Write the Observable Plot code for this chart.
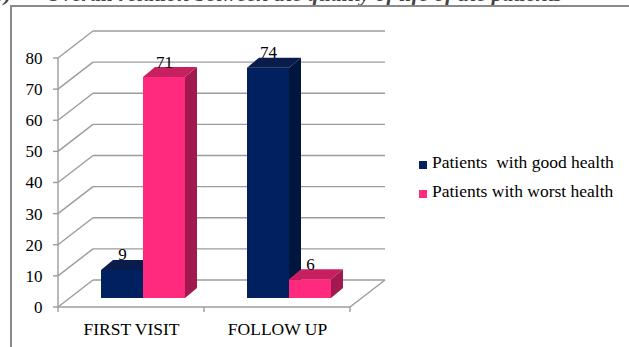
<!DOCTYPE html>
<html>
<head>
<meta charset="utf-8">
<script src="https://cdn.jsdelivr.net/npm/d3@7"></script>
<script src="https://cdn.jsdelivr.net/npm/@observablehq/plot@0.6"></script>
<style>
  html, body { margin: 0; padding: 0; background: #fff; }
  #wrap { position: relative; width: 629px; height: 347px; overflow: hidden; font-family: "Liberation Serif", "DejaVu Serif", serif; }
  .title { position: absolute; top: -17px; font-size: 22px; line-height: 22px; font-weight: bold; font-style: italic; color: #444; white-space: nowrap; }
  #frame { position: absolute; left: 10px; top: 5px; width: 700px; height: 400px; border-left: 2px solid #8a8a8a; border-top: 2px solid #8a8a8a; }
  #chart { position: absolute; left: 0; top: 0; }
  .leg { position: absolute; left: 419px; font-size: 17.5px; line-height: 20px; white-space: pre; color: #000; }
  .leg i { position: absolute; left: 0; width: 8px; height: 8px; }
  .leg span { position: absolute; left: 13px; top: 0; }
</style>
</head>
<body>
<div id="wrap">
  <div class="title" style="left:-7px">b)</div>
  <div class="title" style="left:46px">Overall relation between the quality of life of the patients</div>
  <div id="frame"></div>
  <div id="chart"></div>
  <div id="legend"></div>
</div>
<script>
// ---- data ----
const categories = ["FIRST VISIT", "FOLLOW UP"];
const seriesNames = ["Patients  with good health", "Patients with worst health"];
const goodHealth = [9, 74];
const worstHealth = [71, 6];
const yTicks = [0, 10, 20, 30, 40, 50, 60, 70, 80];

// ---- style ----
const frontColors = ["#002060", "#ff2a7d"];
const topColors = ["#0a1c4c", "#c81f60"];
const sideColors = ["#00163f", "#a01a50"];
const gridColor = "#9c9c9c";

const W = 629, H = 347;
const mL = 58, mR = 279, mT = 58, mB = 40;
const bw = (W - mL - mR) / categories.length;
const DX = 35, DY = -27;       // wall depth
const BX = 12, BY = -9;        // bar front-face offset into depth
const TX = 12, TY = -10;       // bar thickness
const barW = 42;
const padL = (bw - 2 * barW) / 2;

const rows = categories.flatMap((c, i) => [
  {cat: c, s: 0, value: goodHealth[i]},
  {cat: c, s: 1, value: worstHealth[i]}
]);

function walls(index, scales, values, dims) {
  const {x, y} = scales;
  const band = typeof x.bandwidth === "function" ? x.bandwidth() : bw;
  const x0 = x(categories[0]);
  const xEnd = x(categories[categories.length - 1]) + band;
  const y0 = y(0);
  const g = d3.create("svg:g").attr("fill", "none").attr("stroke", gridColor).attr("stroke-width", 1.4);
  for (const v of yTicks) {
    const yy = y(v);
    g.append("line").attr("x1", x0).attr("y1", yy).attr("x2", x0 + DX).attr("y2", yy + DY);
    g.append("line").attr("x1", x0 + DX).attr("y1", yy + DY).attr("x2", xEnd + DX).attr("y2", yy + DY);
    g.append("line").attr("x1", x0 - 5).attr("y1", yy).attr("x2", x0).attr("y2", yy);
  }
  g.append("line").attr("x1", x0).attr("y1", y0).attr("x2", x0).attr("y2", y(yTicks[yTicks.length - 1]));
  g.append("line").attr("x1", x0).attr("y1", y0).attr("x2", xEnd).attr("y2", y0);
  g.append("line").attr("x1", xEnd).attr("y1", y0).attr("x2", xEnd + DX).attr("y2", y0 + DY);
  for (let i = 0; i <= categories.length; i++) {
    const xx = x0 + i * band;
    g.append("line").attr("x1", xx).attr("y1", y0).attr("x2", xx).attr("y2", y0 + 5);
  }
  return g.node();
}

function bars3d(index, scales) {
  const {x, y} = scales;
  const g = d3.create("svg:g");
  for (const r of rows) {
    const bx = x(r.cat) + padL + r.s * barW + BX;
    const b0 = y(0) + BY;
    const bt = y(r.value) + BY;
    g.append("rect").attr("x", bx).attr("y", bt).attr("width", barW).attr("height", b0 - bt).attr("fill", frontColors[r.s]);
    g.append("polygon").attr("points", [[bx, bt], [bx + barW, bt], [bx + barW + TX, bt + TY], [bx + TX, bt + TY]].join(" ")).attr("fill", topColors[r.s]);
    g.append("polygon").attr("points", [[bx + barW, bt], [bx + barW + TX, bt + TY], [bx + barW + TX, b0 + TY], [bx + barW, b0]].join(" ")).attr("fill", sideColors[r.s]);
  }
  return g.node();
}

const labelDx = s => padL + s * barW + barW / 2 + BX - bw / 2;

const chart = Plot.plot({
  width: W,
  height: H,
  marginLeft: mL,
  marginRight: mR,
  marginTop: mT,
  marginBottom: mB,
  style: {background: "transparent", overflow: "visible", fontFamily: "'Liberation Serif', 'DejaVu Serif', serif", fontSize: "17px", color: "#000"},
  x: {type: "band", domain: categories, padding: 0},
  y: {domain: [0, 80]},
  marks: [
    walls,
    bars3d,
    Plot.axisY({ticks: yTicks, tickSize: 0, tickPadding: 16, fontSize: 17, label: null}),
    Plot.axisX({tickSize: 0, tickPadding: 15, fontSize: 17.5, label: null}),
    Plot.text(rows.filter(r => r.s === 0), {x: "cat", y: "value", text: d => String(d.value), dx: labelDx(0), dy: -19, lineAnchor: "bottom", fontSize: 17}),
    Plot.text(rows.filter(r => r.s === 1), {x: "cat", y: "value", text: d => String(d.value), dx: labelDx(1), dy: -19, lineAnchor: "bottom", fontSize: 17})
  ]
});
document.getElementById("chart").appendChild(chart);

const legend = document.getElementById("legend");
seriesNames.forEach((name, i) => {
  const d = document.createElement("div");
  d.className = "leg";
  d.style.top = (152 + i * 29) + "px";
  d.innerHTML = `<i style="top:9px;background:${frontColors[i]}"></i><span></span>`;
  d.querySelector("span").textContent = name;
  legend.appendChild(d);
});
</script>
</body>
</html>
